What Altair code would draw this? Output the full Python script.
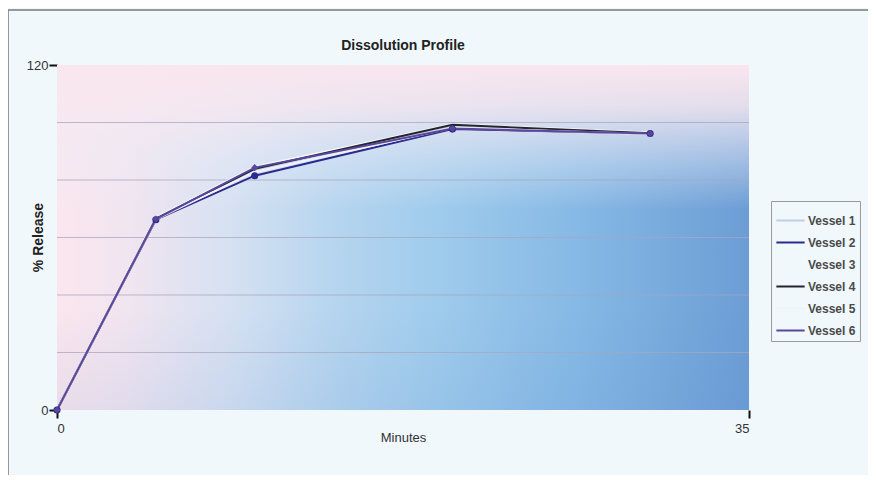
import altair as alt
import pandas as pd

# sample times (minutes) and % release per vessel
minutes = [0, 5, 10, 20, 30]
vessel_names = ["Vessel 1", "Vessel 2", "Vessel 3", "Vessel 4", "Vessel 5", "Vessel 6"]
vessel_1 = [0, 66.6, 83.6, 98.6, 96.3]
vessel_2 = [0, 66.2, 81.5, 97.7, 96.2]
vessel_3 = [0, 66.9, 84.6, 99.4, 96.5]
vessel_4 = [0, 66.5, 83.9, 99.2, 96.3]
vessel_5 = [0, 66.3, 82.8, 98.2, 96.0]
vessel_6 = [0, 66.4, 84.3, 97.9, 96.2]
vessel_colors = ["#c3cde3", "#2b2a8e", "#f4f7fc", "#25252e", "#eef3fa", "#5a469b"]
marker_vessels = ["Vessel 2", "Vessel 6"]
marker_shapes = ["circle", "diamond"]

x_ticks = [0, 35]
y_ticks = [0, 120]
grid_values = [20, 40, 60, 80, 100]

rows = []
for name, vals in zip(vessel_names, [vessel_1, vessel_2, vessel_3, vessel_4, vessel_5, vessel_6]):
    for m, v in zip(minutes, vals):
        rows.append({"Minutes": m, "Release": v, "Vessel": name})
df = pd.DataFrame(rows)
df_grid = pd.DataFrame({"Release": grid_values})
one = pd.DataFrame({"k": [0]})

FONT = "Liberation Sans"

x_scale = alt.Scale(domain=[0, 35], nice=False)
y_scale = alt.Scale(domain=[0, 120], nice=False)
color_scale = alt.Scale(domain=vessel_names, range=vessel_colors)

x_axis = alt.Axis(values=x_ticks, title="Minutes", grid=False, domain=False,
                  tickSize=8, tickWidth=2, tickColor="#111", labelPadding=4,
                  labelFont=FONT, labelFontSize=13, labelColor="#333",
                  titleFont=FONT, titleFontSize=13, titleFontWeight="normal",
                  titleColor="#333", titleY=27, titleBaseline="middle")
y_axis = alt.Axis(values=y_ticks, title="% Release", grid=False, domain=False,
                  tickSize=8, tickWidth=2, tickColor="#111", labelPadding=1,
                  labelFont=FONT, labelFontSize=13, labelColor="#333",
                  titleFont=FONT, titleFontSize=14, titleFontWeight="bold",
                  titleColor="#222", titleX=-19, titleY=172, titleAlign="center",
                  titleBaseline="middle")

# outer frame
frame = alt.Chart(one).mark_rect(fillOpacity=0, stroke="#7a7a7a", strokeWidth=1.5).encode(
    x=alt.value(-49), x2=alt.value(815), y=alt.value(-55), y2=alt.value(420)
)

# plot-area gradient: pink on the left to blue on the right
bg = alt.Chart(one).mark_rect(fill=alt.LinearGradient(
    gradient="linear", x1=0, y1=0, x2=1, y2=0,
    stops=[
        alt.GradientStop(color="#fbe6ee", offset=0),
        alt.GradientStop(color="#f1e5f0", offset=0.1),
        alt.GradientStop(color="#d6e1f2", offset=0.25),
        alt.GradientStop(color="#b6d5ef", offset=0.4),
        alt.GradientStop(color="#9fcbec", offset=0.55),
        alt.GradientStop(color="#86b9e5", offset=0.75),
        alt.GradientStop(color="#6c9dd5", offset=1),
    ])).encode(x=alt.value(0), x2=alt.value("width"), y=alt.value(0), y2=alt.value("height"))

# pinkish wash across the top
top_wash = alt.Chart(one).mark_rect(fill=alt.LinearGradient(
    gradient="linear", x1=0, y1=0, x2=0, y2=1,
    stops=[
        alt.GradientStop(color="rgba(249,230,238,1)", offset=0),
        alt.GradientStop(color="rgba(248,232,240,0.85)", offset=0.12),
        alt.GradientStop(color="rgba(238,236,246,0.4)", offset=0.28),
        alt.GradientStop(color="rgba(238,236,246,0)", offset=0.42),
        alt.GradientStop(color="rgba(80,130,200,0)", offset=0.7),
        alt.GradientStop(color="rgba(80,130,200,0.1)", offset=1),
    ])).encode(x=alt.value(0), x2=alt.value("width"), y=alt.value(0), y2=alt.value("height"))

grid = alt.Chart(df_grid).mark_rule(color="#a9a6bd", strokeWidth=1, opacity=0.75).encode(
    y=alt.Y("Release:Q", scale=y_scale, axis=y_axis)
)

lines = alt.Chart(df).mark_line(strokeWidth=2).encode(
    x=alt.X("Minutes:Q", scale=x_scale, axis=x_axis),
    y=alt.Y("Release:Q", scale=y_scale, axis=y_axis),
    color=alt.Color("Vessel:N", scale=color_scale, sort=vessel_names, legend=alt.Legend(
        title=None, orient="none", legendX=714, legendY=136,
        strokeColor="#9a9a9a", padding=4, symbolType="stroke", symbolStrokeWidth=2,
        symbolSize=800, labelFont=FONT, labelFontSize=12,
        labelFontWeight="bold", labelColor="#4a4a4a", labelOffset=2, rowPadding=0)),
    order=alt.Order("Minutes:Q"),
    detail="Vessel:N",
)

points = alt.Chart(df[df["Vessel"].isin(marker_vessels)]).mark_point(
    filled=True, size=50, opacity=1
).encode(
    x=alt.X("Minutes:Q", scale=x_scale, axis=x_axis),
    y=alt.Y("Release:Q", scale=y_scale, axis=y_axis),
    color=alt.Color("Vessel:N", scale=color_scale, legend=None),
    shape=alt.Shape("Vessel:N", scale=alt.Scale(domain=marker_vessels, range=marker_shapes), legend=None),
)

chart = alt.layer(frame, bg, top_wash, grid, lines, points).properties(
    width=692, height=345,
    title=alt.TitleParams("Dissolution Profile", font=FONT, fontSize=14,
                          fontWeight="bold", color="#222", offset=0, dy=44),
    autosize=alt.AutoSizeParams(type="none"),
    padding={"left": 49, "top": 57, "right": 119, "bottom": 65},
    background="#f0f8fc",
).configure_view(stroke=None)

chart.save("out.html", embed_options={"renderer": "svg", "actions": False})
